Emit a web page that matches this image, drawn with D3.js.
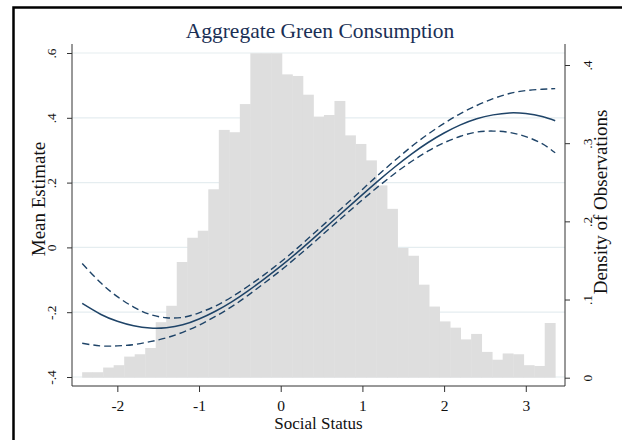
<!DOCTYPE html>
<html>
<head>
<meta charset="utf-8">
<script src="https://cdn.jsdelivr.net/npm/d3@7"></script>
<style>
  body { margin: 0; background: #fff; }
  svg { display: block; }
  text { font-family: "Liberation Serif", "Times New Roman", serif; }
</style>
</head>
<body>
<svg id="chart" width="622" height="440"></svg>
<script>
// Histogram of social status (density per bin)
const binStart = -2.431;
const binWidth = 0.1287;
const histDensity = [
  0.007, 0.007, 0.013, 0.016, 0.027, 0.030, 0.038, 0.071, 0.092, 0.148,
  0.179, 0.188, 0.241, 0.317, 0.314, 0.350, 0.415, 0.415, 0.415, 0.388,
  0.386, 0.362, 0.334, 0.336, 0.354, 0.310, 0.299, 0.278, 0.246, 0.216,
  0.166, 0.156, 0.119, 0.091, 0.072, 0.064, 0.049, 0.056, 0.033, 0.023,
  0.031, 0.030, 0.016, 0.015, 0.070
];

// Fitted mean estimate with confidence band
const fitX = [-2.43, -2.2, -2.0, -1.8, -1.6, -1.4, -1.2, -1.0, -0.8, -0.6,
              -0.4, -0.2, 0.0, 0.2, 0.4, 0.6, 0.8, 1.0, 1.2, 1.4,
              1.6, 1.8, 2.0, 2.2, 2.4, 2.6, 2.8, 3.0, 3.2, 3.36];
const fitMean = [-0.173, -0.207, -0.228, -0.242, -0.249, -0.248, -0.239, -0.221, -0.197, -0.168,
                 -0.134, -0.097, -0.058, -0.016, 0.028, 0.073, 0.118, 0.163, 0.207, 0.249,
                 0.288, 0.323, 0.353, 0.378, 0.397, 0.409, 0.415, 0.413, 0.404, 0.391];
const fitUpper = [-0.050, -0.110, -0.152, -0.184, -0.207, -0.217, -0.216, -0.202, -0.181, -0.153,
                  -0.120, -0.084, -0.045, -0.003, 0.042, 0.087, 0.133, 0.179, 0.225, 0.269,
                  0.311, 0.349, 0.383, 0.413, 0.438, 0.459, 0.475, 0.484, 0.488, 0.490];
const fitLower = [-0.296, -0.304, -0.304, -0.300, -0.291, -0.279, -0.262, -0.240, -0.213, -0.183,
                  -0.148, -0.110, -0.071, -0.029, 0.014, 0.059, 0.103, 0.147, 0.189, 0.229,
                  0.265, 0.297, 0.323, 0.343, 0.356, 0.359, 0.355, 0.342, 0.320, 0.292];

// Axis ticks
const xTicks = [-2, -1, 0, 1, 2, 3];
const yLeftTicks = [-0.4, -0.2, 0, 0.2, 0.4, 0.6];
const yRightTicks = [0, 0.1, 0.2, 0.3, 0.4];

const titleText = "Aggregate Green Consumption";
const xTitle = "Social Status";
const yLeftTitle = "Mean Estimate";
const yRightTitle = "Density of Observations";

const lineColor = "#1f4468";
const barColor = "#dedede";
const gridColor = "#e5edf0";
const axisColor = "#333";

const plot = { left: 72, right: 565, top: 44, bottom: 386 };

const svg = d3.select("#chart");

const x = d3.scaleLinear().domain([-2.555, 3.48]).range([plot.left, plot.right]);
const yL = d3.scaleLinear().domain([-0.4, 0.6]).range([377, 53]);
const yR = d3.scaleLinear().domain([0, 0.4]).range([377.7, 65]);

// Outer frame
svg.append("rect")
  .attr("x", 13.5).attr("y", 7.5)
  .attr("width", 700).attr("height", 500)
  .attr("fill", "none").attr("stroke", "#000").attr("stroke-width", 2.5);

// Horizontal gridlines at the left-axis ticks
svg.append("g").selectAll("line").data(yLeftTicks).join("line")
  .attr("x1", plot.left).attr("x2", plot.right)
  .attr("y1", d => yL(d)).attr("y2", d => yL(d))
  .attr("stroke", gridColor).attr("stroke-width", 1.2);

// Histogram bars
svg.append("g").selectAll("rect").data(histDensity).join("rect")
  .attr("x", (d, i) => x(binStart + i * binWidth))
  .attr("width", (d, i) => x(binStart + (i + 1) * binWidth) - x(binStart + i * binWidth) + 0.4)
  .attr("y", d => yR(d))
  .attr("height", d => yR(0) - yR(d))
  .attr("fill", barColor);

// Fitted line and confidence bounds
const toPts = ys => fitX.map((v, i) => [v, ys[i]]);
const line = d3.line().x(d => x(d[0])).y(d => yL(d[1])).curve(d3.curveNatural);

svg.append("path").datum(toPts(fitUpper))
  .attr("d", line).attr("fill", "none")
  .attr("stroke", lineColor).attr("stroke-width", 1.4).attr("stroke-dasharray", "7,4");
svg.append("path").datum(toPts(fitLower))
  .attr("d", line).attr("fill", "none")
  .attr("stroke", lineColor).attr("stroke-width", 1.4).attr("stroke-dasharray", "7,4");
svg.append("path").datum(toPts(fitMean))
  .attr("d", line).attr("fill", "none")
  .attr("stroke", lineColor).attr("stroke-width", 1.5);

// Stata-style labels: no leading zero, ASCII hyphen for negatives
const fmtDec = d => {
  if (d === 0) return "0";
  const s = Math.abs(d).toFixed(1).replace(/^0/, "");
  return (d < 0 ? "-" : "") + s;
};
const fmtInt = d => (d < 0 ? "-" : "") + Math.abs(d);

const labelFont = '"Liberation Serif", "Times New Roman", serif';

// Bottom axis
const gx = svg.append("g").attr("transform", `translate(0,${plot.bottom})`)
  .call(d3.axisBottom(x).tickValues(xTicks).tickSize(6).tickSizeOuter(0).tickFormat(fmtInt));
gx.select(".domain").remove();
gx.selectAll(".tick line").attr("stroke", axisColor);
gx.selectAll(".tick text").attr("y", 24.7).attr("dy", null)
  .attr("font-size", 15.5).attr("fill", "#111")
  .style("font-family", labelFont);
svg.append("line").attr("x1", plot.left).attr("x2", plot.right)
  .attr("y1", plot.bottom).attr("y2", plot.bottom).attr("stroke", axisColor);

// Left axis
const gl = svg.append("g").attr("transform", `translate(${plot.left},0)`)
  .call(d3.axisLeft(yL).tickValues(yLeftTicks).tickSize(5).tickSizeOuter(0).tickFormat(fmtDec));
gl.select(".domain").remove();
gl.selectAll(".tick line").attr("stroke", axisColor);
gl.selectAll(".tick text")
  .attr("x", 0).attr("y", -16.5).attr("dy", null)
  .attr("transform", "rotate(-90)").attr("text-anchor", "middle")
  .attr("font-size", 13.5).attr("fill", "#111")
  .style("font-family", labelFont);
svg.append("line").attr("x1", plot.left).attr("x2", plot.left)
  .attr("y1", plot.top).attr("y2", plot.bottom).attr("stroke", axisColor);

// Right axis
const gr = svg.append("g").attr("transform", `translate(${plot.right},0)`)
  .call(d3.axisRight(yR).tickValues(yRightTicks).tickSize(5).tickSizeOuter(0).tickFormat(fmtDec));
gr.select(".domain").remove();
gr.selectAll(".tick line").attr("stroke", axisColor);
gr.selectAll(".tick text")
  .attr("x", 0).attr("y", 26.5).attr("dy", null)
  .attr("transform", "rotate(-90)").attr("text-anchor", "middle")
  .attr("font-size", 13.5).attr("fill", "#111")
  .style("font-family", labelFont);
svg.append("line").attr("x1", plot.right).attr("x2", plot.right)
  .attr("y1", plot.top).attr("y2", plot.bottom).attr("stroke", axisColor);

// Titles
svg.append("text").attr("x", 320).attr("y", 38)
  .attr("text-anchor", "middle").attr("font-size", 21.5).attr("fill", "#1a2f55")
  .text(titleText);
svg.append("text").attr("x", (plot.left + plot.right) / 2).attr("y", 428.5)
  .attr("text-anchor", "middle").attr("font-size", 17).attr("fill", "#111")
  .text(xTitle);
svg.append("text").attr("transform", "translate(45,199) rotate(-90)")
  .attr("text-anchor", "middle").attr("font-size", 19).attr("fill", "#111")
  .text(yLeftTitle);
svg.append("text").attr("transform", "translate(606.5,202) rotate(-90)")
  .attr("text-anchor", "middle").attr("font-size", 19).attr("fill", "#111")
  .text(yRightTitle);
</script>
</body>
</html>
